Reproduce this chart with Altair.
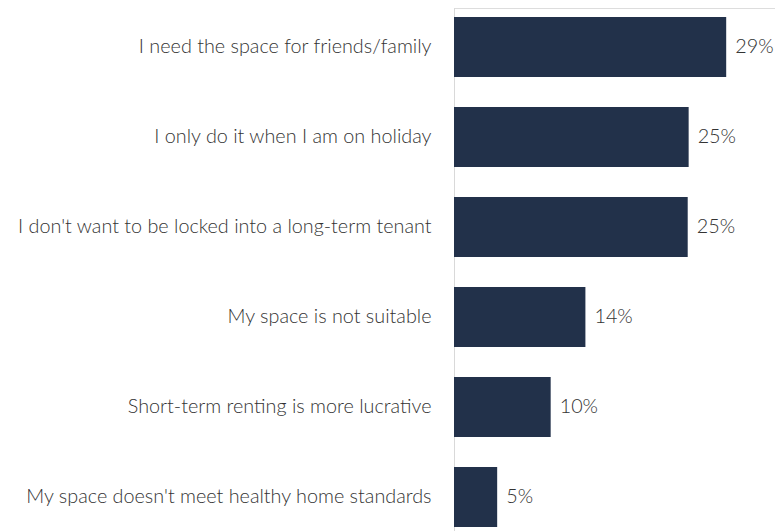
import altair as alt
import pandas as pd

categories = [
    "I need the space for friends/family",
    "I only do it when I am on holiday",
    "I don't want to be locked into a long-term tenant",
    "My space is not suitable",
    "Short-term renting is more lucrative",
    "My space doesn't meet healthy home standards",
]
values = [29.0, 25.0, 24.9, 14.0, 10.3, 4.6]
labels = ["29%", "25%", "25%", "14%", "10%", "5%"]

df = pd.DataFrame({"reason": categories, "value": values, "label": labels})

FONT = "Lato"
TEXT_COLOR = "#333333"
FS = 19.8

y_enc = alt.Y(
    "reason:N",
    sort=categories,
    scale=alt.Scale(range=[-6, 534], paddingInner=1 / 3, paddingOuter=1 / 6),
    axis=alt.Axis(
        title=None,
        ticks=False,
        grid=False,
        domain=True,
        domainColor="#d9d9d9",
        domainWidth=1,
        labelPadding=23,
        labelFont=FONT,
        labelFontWeight=300,
        labelFontSize=FS,
        labelColor=TEXT_COLOR,
        labelLimit=500,
    ),
)

x_enc = alt.X(
    "value:Q",
    scale=alt.Scale(domain=[0, 34.2], nice=False),
    axis=None,
)

bars = alt.Chart(df).mark_bar(color="#22314a").encode(x=x_enc, y=y_enc)

text = alt.Chart(df).mark_text(
    align="left",
    baseline="middle",
    dx=9,
    font=FONT,
    fontWeight=300,
    fontSize=FS,
    color=TEXT_COLOR,
).encode(x=x_enc, y=y_enc, text="label:N")

chart = (
    alt.layer(bars, text)
    .properties(
        width=321,
        height=523,
        padding={"left": 446, "top": 0, "right": 0, "bottom": 0},
        autosize=alt.AutoSizeParams(type="none"),
    )
    .configure_view(stroke=None)
    .configure(background="white")
)

chart.save("out.html", embed_options={"renderer": "svg", "actions": False})
